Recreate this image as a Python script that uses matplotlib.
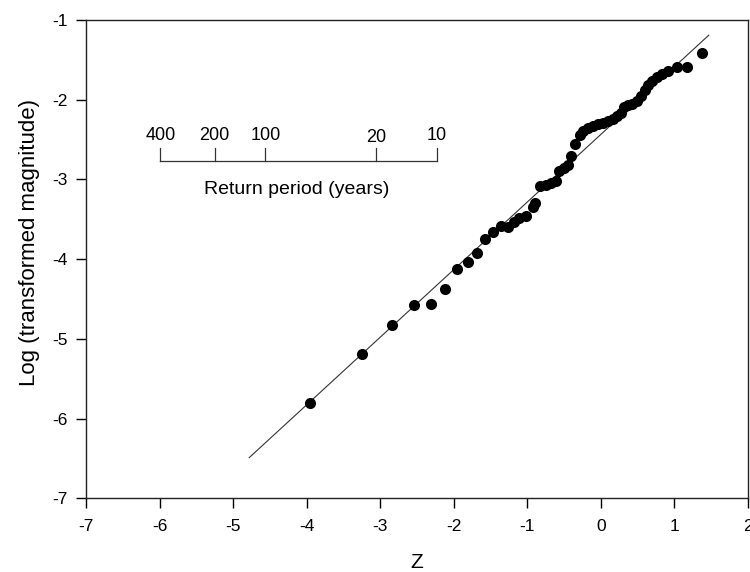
import matplotlib
matplotlib.use("Agg")
import matplotlib.pyplot as plt
import numpy as np

plt.rcParams["font.family"] = ["Liberation Sans", "DejaVu Sans"]

# observed points (Z, log transformed magnitude)
z_obs = [-3.955, -3.25, -2.84, -2.54, -2.31, -2.12, -1.96, -1.81, -1.68, -1.57,
         -1.46, -1.36, -1.26, -1.18, -1.11, -1.02, -0.92, -0.89, -0.83, -0.75,
         -0.67, -0.61, -0.57, -0.50, -0.44, -0.40, -0.35, -0.28, -0.24, -0.17,
         -0.10, -0.04, 0.03, 0.10, 0.17, 0.22, 0.27, 0.32, 0.37, 0.43,
         0.50, 0.55, 0.60, 0.64, 0.70, 0.77, 0.84, 0.92, 1.04, 1.17, 1.38]
logmag = [-5.81, -5.19, -4.83, -4.58, -4.56, -4.38, -4.12, -4.04, -3.92, -3.75,
          -3.66, -3.59, -3.60, -3.54, -3.49, -3.46, -3.34, -3.29, -3.08, -3.07,
          -3.04, -3.02, -2.90, -2.86, -2.82, -2.71, -2.56, -2.44, -2.39, -2.36,
          -2.33, -2.31, -2.29, -2.27, -2.24, -2.20, -2.17, -2.09, -2.07, -2.05,
          -2.02, -1.95, -1.88, -1.82, -1.76, -1.71, -1.68, -1.64, -1.59, -1.59, -1.42]

# fitted line
fit_intercept = -2.437
fit_slope = 0.848
fit_range = [-4.78, 1.47]

# return period scale
rp_labels = ["400", "200", "100", "20", "10"]
rp_z = [-5.99, -5.25, -4.56, -3.06, -2.23]

fig = plt.figure(figsize=(7.5, 5.72), dpi=100)
ax = fig.add_axes([0.1147, 0.129, 0.8823, 0.836])

xf = np.array(fit_range)
ax.plot(xf, fit_intercept + fit_slope * xf, color="#333333", lw=0.8, zorder=2)
ax.plot(z_obs, logmag, "o", color="black", ms=8, mew=0, zorder=3)

# return period bracket
base_y, tick_top = -2.77, -2.61
ax.plot([rp_z[0], rp_z[-1]], [base_y, base_y], color="#333333", lw=0.9)
for zz, lab in zip(rp_z, rp_labels):
    ax.plot([zz, zz], [base_y, tick_top], color="#333333", lw=0.9)
    dy = -0.03 if lab == "20" else 0.0
    ax.text(zz, -2.45 + dy, lab, ha="center", va="center", fontsize=13)
ax.text(-4.13, -3.13, "Return period (years)", ha="center", va="center", fontsize=14)

ax.set_xlim(-7, 2)
ax.set_ylim(-7, -1)
ax.set_xticks(np.arange(-7, 3, 1))
ax.set_yticks(np.arange(-7, 0, 1))
ax.set_xticklabels([f"{v}" for v in range(-7, 3)])
ax.set_yticklabels([f"{v}" for v in range(-7, 0)])
ax.tick_params(direction="out", length=7, width=1, labelsize=12.5)
ax.tick_params(axis="x", pad=8)
ax.tick_params(axis="y", pad=6)
for s in ax.spines.values():
    s.set_linewidth(1.0)
    s.set_color("#222222")
ax.set_xlabel("Z", fontsize=15, labelpad=14)
ax.set_ylabel("Log (transformed magnitude)", fontsize=16)
ax.yaxis.set_label_coords(-0.07, 0.535)

fig.savefig("out.png", dpi=100)
